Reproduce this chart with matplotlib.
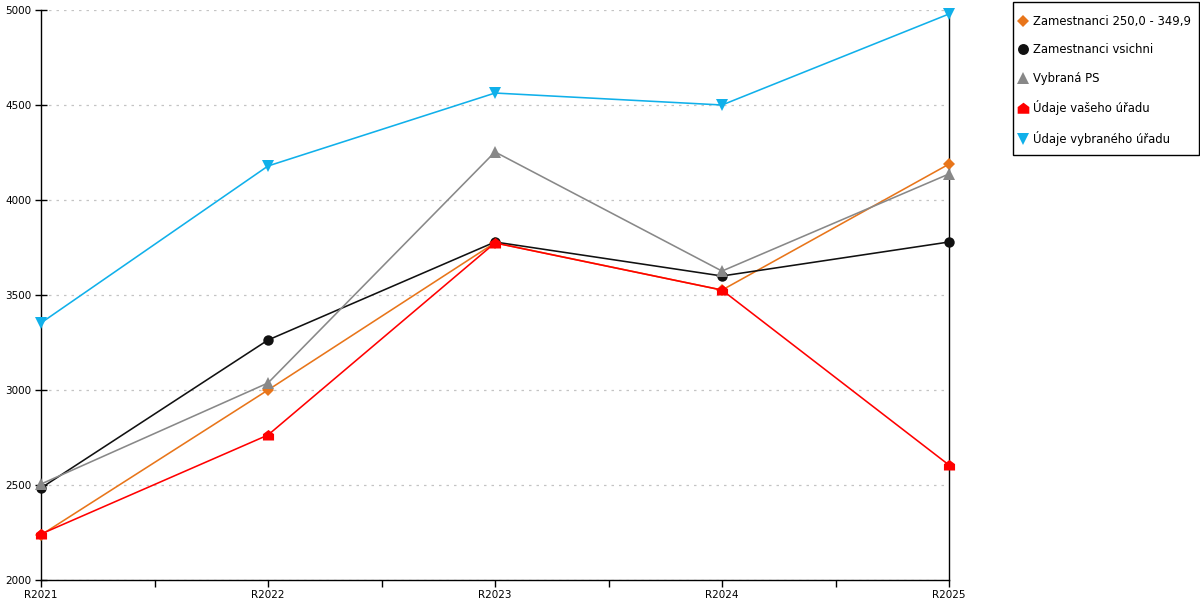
import matplotlib

matplotlib.use("Agg")
import matplotlib.pyplot as plt
import numpy as np
from matplotlib.patches import Rectangle
from matplotlib.path import Path

# ─── data ────────────────────────────────────────────────────────────────────
years = ["R2021", "R2022", "R2023", "R2024", "R2025"]

zam_250 = [2237, 3000, 3775, 3526, 4189]
zam_all = [2484, 3263, 3779, 3600, 3779]
vybrana_ps = [2505, 3037, 4253, 3626, 4137]
vas_urad = [2242, 2763, 3774, 3526, 2605]
vybrany_urad = [3353, 4179, 4563, 4500, 4979]

# house-shaped marker (square with a roof)
house = Path([(-1, -0.9), (1, -0.9), (1, 0.25), (0, 1), (-1, 0.25), (-1, -0.9)],
             [Path.MOVETO, Path.LINETO, Path.LINETO, Path.LINETO, Path.LINETO,
              Path.CLOSEPOLY])

series = [
    ("Zamestnanci 250,0 - 349,9", zam_250, "#e8751a", "D", 6),
    ("Zamestnanci vsichni", zam_all, "#111111", "o", 7.5),
    ("Vybraná PS", vybrana_ps, "#888888", "^", 8),
    ("Údaje vašeho úřadu", vas_urad, "#ff0000", house, 8),
    ("Údaje vybraného úřadu", vybrany_urad, "#10b0ea", "v", 8),
]

plt.rcParams["font.family"] = ["DejaVu Sans"]

fig = plt.figure(figsize=(12, 6), dpi=100)
ax = fig.add_axes([41 / 1200, 20 / 600, 908 / 1200, 570 / 600])

x = np.arange(len(years))
for label, vals, color, marker, ms in series:
    ax.plot(x, vals, color=color, lw=1.15, marker=marker, ms=ms,
            markeredgewidth=0, label=label, clip_on=False, zorder=3)

ax.set_xlim(0, len(years) - 1)
ax.set_ylim(2000, 5000)
ax.set_xticks(x)
ax.set_xticklabels(years)
ax.set_xticks(x[:-1] + 0.5, minor=True)
ax.set_yticks(np.arange(2000, 5001, 500))

ax.tick_params(axis="both", which="both", direction="out", length=5,
               width=1, labelsize=7.5, pad=2)
ax.tick_params(axis="y", direction="inout", length=8, pad=3)

ax.grid(axis="y", color="#c4c4c4", linestyle=(0, (2, 4)), lw=0.9)
ax.set_axisbelow(True)

ax.spines["top"].set_visible(False)
for side in ["left", "bottom", "right"]:
    ax.spines[side].set_color("black")
    ax.spines[side].set_linewidth(1)

# legend box drawn separately so its padding can match the reference
fig.patches.append(Rectangle((1013 / 1200, 1 - 155 / 600), 186 / 1200, 153 / 600,
                             transform=fig.transFigure, fill=False,
                             edgecolor="black", lw=1))
leg = fig.legend(loc="upper left", bbox_to_anchor=(1019 / 1200, 1 - 15 / 600),
                 frameon=False, fontsize=8.4,
                 handlelength=0.7, handletextpad=0.5, labelspacing=1.32,
                 borderpad=0, borderaxespad=0, markerscale=1.05)
for h in leg.legend_handles:
    h.set_linestyle("none")

fig.savefig("out.png", dpi=100)
